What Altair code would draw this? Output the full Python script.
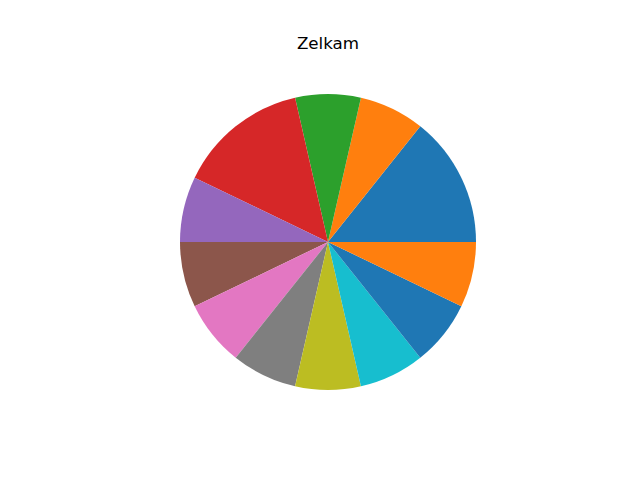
import math
import altair as alt
import pandas as pd

# slice values in matplotlib order (counterclockwise from 3 o'clock)
labels = ["s1", "s2", "s3", "s4", "s5", "s6", "s7", "s8", "s9", "s10", "s11", "s12"]
values = [2, 1, 1, 2, 1, 1, 1, 1, 1, 1, 1, 1]
colors = ["#1f77b4", "#ff7f0e", "#2ca02c", "#d62728", "#9467bd", "#8c564b",
          "#e377c2", "#7f7f7f", "#bcbd22", "#17becf", "#1f77b4", "#ff7f0e"]
title = "Zelkam"

n = len(values)
df = pd.DataFrame({
    "label": labels,
    "value": values,
    # reverse order so that clockwise drawing from east matches matplotlib CCW
    "order": [n - i for i in range(n)],
})

pie = alt.Chart(df).mark_arc(stroke=None).encode(
    theta=alt.Theta("value:Q", stack=True,
                    scale=alt.Scale(range=[math.pi / 2, math.pi / 2 + 2 * math.pi])),
    order=alt.Order("order:Q", sort="ascending"),
    color=alt.Color("label:N", scale=alt.Scale(domain=labels, range=colors), legend=None),
    x=alt.value(320),
    y=alt.value(234),
    radius=alt.value(148),
)

title_df = pd.DataFrame({"t": [title]})
ttl = alt.Chart(title_df).mark_text(
    font="DejaVu Sans", fontSize=16.7, color="black", baseline="alphabetic", align="center"
).encode(
    text="t:N",
    x=alt.value(320),
    y=alt.value(41),
)

chart = alt.layer(pie, ttl).properties(
    width=624, height=464, autosize="none", padding=0
).configure_view(stroke=None)

chart.save("out.html", embed_options={"renderer": "svg", "actions": False})
